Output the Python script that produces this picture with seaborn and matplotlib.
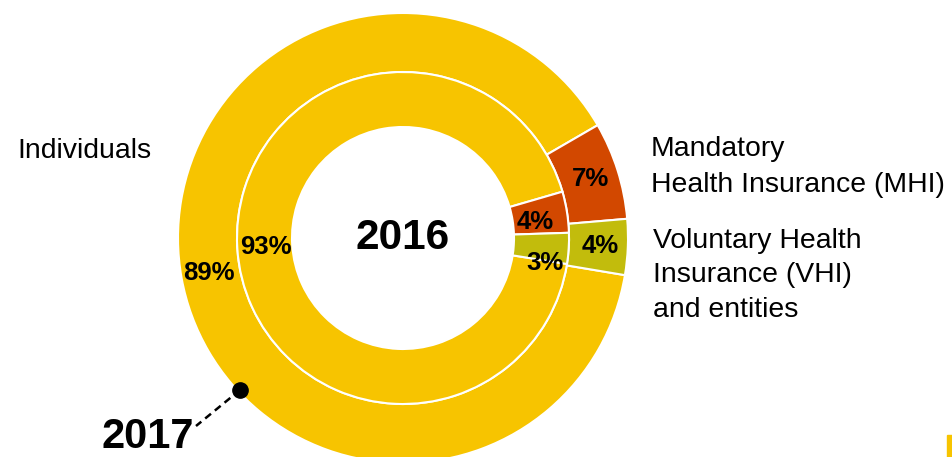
import matplotlib.pyplot as plt
import seaborn as sns
from matplotlib.patches import Rectangle

sns.set_theme(style='white')
plt.rcParams['font.family'] = ['Liberation Sans', 'DejaVu Sans']
plt.rcParams['text.color'] = 'black'

# data
categories = ['Individuals', 'Mandatory Health Insurance (MHI)',
              'Voluntary Health Insurance (VHI) and entities']
share_2017 = [89, 7, 4]   # outer ring
share_2016 = [93, 4, 3]   # inner ring
colors = ['#F7C400', '#D24800', '#C2BC0C']

W, H = 953, 457
cx, cy = 403, H - 238

fig = plt.figure(figsize=(9.53, 4.57), dpi=100)
ax = fig.add_axes([0, 0, 1, 1])

pct = lambda p: f'{p:.0f}%'
label_style = dict(fontsize=18.5, fontweight='bold', color='black')

# 2017 - outer ring
w_out, t_out, a_out = ax.pie(
    share_2017, radius=225, center=(cx, cy), colors=colors,
    startangle=350.5, counterclock=False, autopct=pct, pctdistance=0.875,
    wedgeprops=dict(width=59, edgecolor='white', linewidth=1.5),
    textprops=label_style)

# 2016 - inner ring
w_in, t_in, a_in = ax.pie(
    share_2016, radius=166, center=(cx, cy), colors=colors,
    startangle=351, counterclock=False, autopct=pct, pctdistance=0.83,
    wedgeprops=dict(width=55, edgecolor='white', linewidth=1.5),
    textprops=label_style)

# small slices labels sit a bit off-centre in the original
a_in[1].set_position((535, H - 222))
a_in[2].set_position((545, H - 263))

ax.text(cx, cy, '2016', ha='center', va='center', fontsize=30.5,
        fontweight='bold', color='black')

# 2017 pointer
ax.plot([240, 196], [H - 390, H - 426], ls=(0, (3, 2)), color='black', lw=1.8)
ax.plot(240, H - 390, 'o', ms=11, color='black')
ax.text(102, H - 448, '2017', ha='left', va='baseline', fontsize=30,
        fontweight='bold', color='black')

# category labels
txt = dict(fontsize=20.4, color='black', ha='left', va='baseline')
ax.text(17, H - 158, 'Individuals', **txt)
for i, line in enumerate(['Mandatory', 'Health Insurance (MHI)']):
    ax.text(651, H - (156 + 36 * i), line, **txt)
for i, line in enumerate(['Voluntary Health', 'Insurance (VHI)', 'and entities']):
    ax.text(653, H - (248 + 34.5 * i), line, **txt)

ax.add_patch(Rectangle((947, 0), 6, 22, color=colors[0]))

ax.set_xlim(0, W)
ax.set_ylim(0, H)
ax.set_aspect('equal')
ax.axis('off')

fig.savefig('out.png', dpi=100)
